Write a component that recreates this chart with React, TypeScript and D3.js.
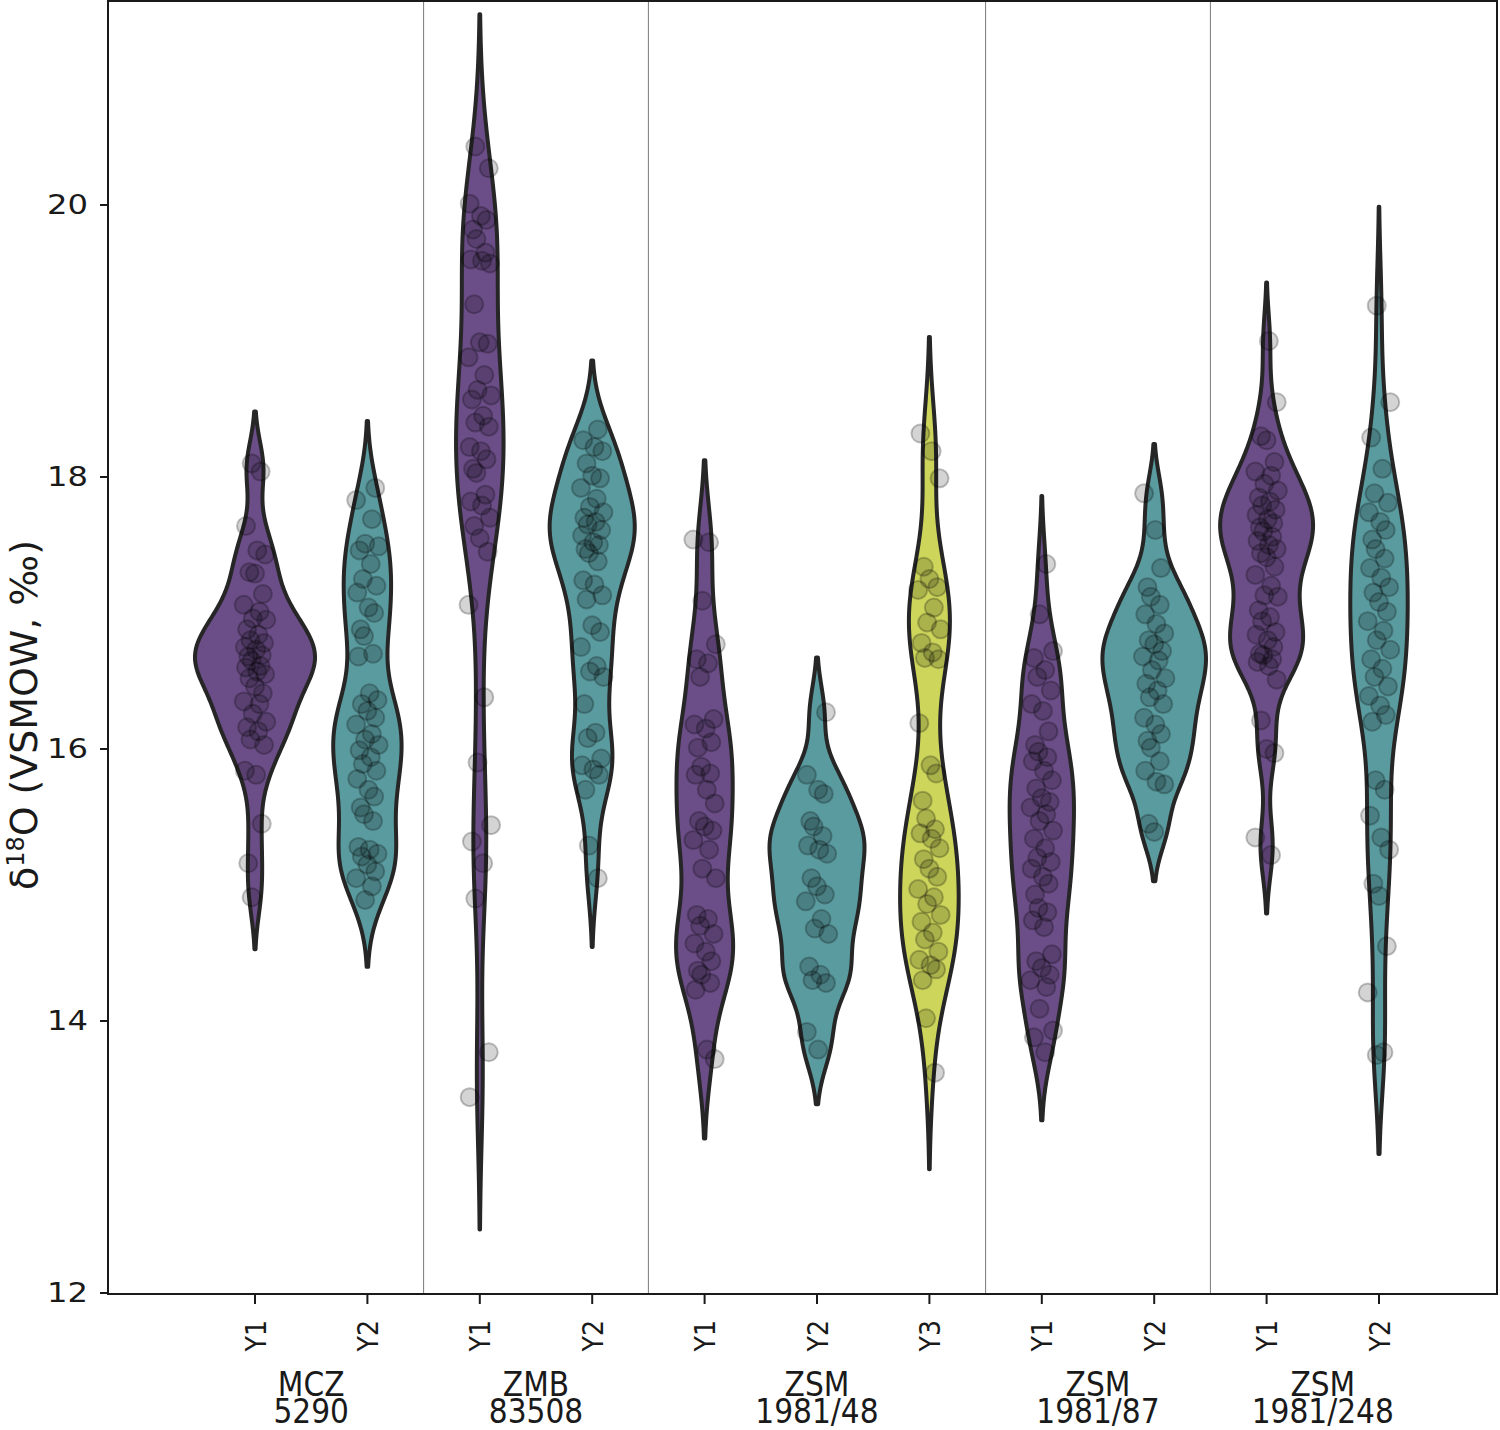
import { useEffect, useRef } from "react"
import * as d3 from "d3"

// group labels (two lines each) and the year slots inside each group
const groupNames = [
  ["MCZ", "5290"],
  ["ZMB", "83508"],
  ["ZSM", "1981/48"],
  ["ZSM", "1981/87"],
  ["ZSM", "1981/248"],
]
const groupYears = [
  ["Y1", "Y2"],
  ["Y1", "Y2"],
  ["Y1", "Y2", "Y3"],
  ["Y1", "Y2"],
  ["Y1", "Y2"],
]
const yTicks = [12, 14, 16, 18, 20]

// δ18O values read off the strips (overlapping circles in dark clusters estimated)
const mczY1 = [18.10, 18.04, 17.64, 17.46, 17.43, 17.30, 17.29, 17.14, 17.06, 17.01, 16.96, 16.95, 16.88, 16.84, 16.80, 16.78, 16.75, 16.73, 16.69, 16.68, 16.65, 16.61, 16.60, 16.57, 16.55, 16.52, 16.46, 16.41, 16.35, 16.33, 16.26, 16.20, 16.16, 16.13, 16.07, 16.03, 15.84, 15.81, 15.45, 15.16, 14.91]
const mczY2 = [17.92, 17.83, 17.69, 17.51, 17.49, 17.46, 17.36, 17.25, 17.20, 17.15, 17.04, 17.00, 16.88, 16.83, 16.70, 16.68, 16.41, 16.36, 16.33, 16.28, 16.23, 16.18, 16.11, 16.07, 16.03, 15.99, 15.94, 15.89, 15.84, 15.78, 15.70, 15.65, 15.57, 15.52, 15.47, 15.28, 15.26, 15.23, 15.21, 15.15, 15.10, 15.05, 14.99, 14.89]
const zmbY1 = [20.43, 20.27, 20.01, 19.92, 19.89, 19.82, 19.75, 19.65, 19.60, 19.59, 19.57, 19.27, 18.99, 18.98, 18.88, 18.75, 18.64, 18.60, 18.57, 18.45, 18.40, 18.37, 18.22, 18.19, 18.13, 18.06, 18.03, 17.87, 17.82, 17.79, 17.70, 17.64, 17.55, 17.45, 17.06, 16.38, 15.90, 15.44, 15.32, 15.16, 14.90, 13.77, 13.44]
const zmbY2 = [18.35, 18.27, 18.22, 18.19, 18.10, 18.01, 17.99, 17.92, 17.84, 17.78, 17.74, 17.70, 17.67, 17.65, 17.61, 17.57, 17.52, 17.50, 17.47, 17.44, 17.38, 17.24, 17.21, 17.13, 17.10, 16.91, 16.86, 16.75, 16.61, 16.57, 16.53, 16.33, 16.12, 16.08, 15.93, 15.88, 15.85, 15.81, 15.70, 15.29, 15.05]
const zsm48Y1 = [17.54, 17.52, 17.09, 16.77, 16.66, 16.63, 16.53, 16.22, 16.18, 16.15, 16.05, 16.01, 15.87, 15.82, 15.81, 15.70, 15.60, 15.47, 15.43, 15.40, 15.33, 15.26, 15.12, 15.05, 14.78, 14.75, 14.70, 14.64, 14.57, 14.51, 14.44, 14.37, 14.34, 14.28, 14.23, 13.79, 13.72]
const zsm48Y2 = [16.27, 15.81, 15.70, 15.67, 15.47, 15.43, 15.36, 15.29, 15.26, 15.23, 15.05, 14.99, 14.93, 14.88, 14.75, 14.68, 14.64, 14.40, 14.34, 14.30, 14.28, 13.92, 13.79]
const zsm48Y3 = [18.32, 18.19, 17.99, 17.34, 17.25, 17.19, 17.17, 17.04, 16.93, 16.88, 16.78, 16.71, 16.67, 16.66, 16.19, 15.88, 15.82, 15.62, 15.49, 15.41, 15.38, 15.34, 15.27, 15.19, 15.12, 15.06, 14.97, 14.91, 14.86, 14.78, 14.73, 14.65, 14.60, 14.51, 14.45, 14.41, 14.38, 14.30, 14.02, 13.62]
const zsm87Y1 = [17.36, 16.99, 16.72, 16.67, 16.58, 16.53, 16.43, 16.33, 16.28, 16.13, 16.03, 15.98, 15.94, 15.91, 15.84, 15.77, 15.71, 15.64, 15.61, 15.57, 15.52, 15.47, 15.40, 15.34, 15.27, 15.20, 15.17, 15.12, 15.06, 15.01, 14.93, 14.83, 14.80, 14.74, 14.69, 14.49, 14.44, 14.39, 14.34, 14.30, 14.25, 14.09, 13.93, 13.88, 13.77]
const zsm87Y2 = [17.88, 17.61, 17.33, 17.19, 17.12, 17.06, 16.99, 16.92, 16.85, 16.80, 16.77, 16.72, 16.68, 16.65, 16.58, 16.52, 16.48, 16.43, 16.38, 16.33, 16.23, 16.18, 16.11, 16.06, 16.01, 15.91, 15.84, 15.76, 15.74, 15.45, 15.39]
const zsm248Y1 = [19.00, 18.55, 18.30, 18.27, 18.11, 18.04, 18.01, 17.95, 17.90, 17.85, 17.82, 17.79, 17.76, 17.72, 17.69, 17.66, 17.63, 17.60, 17.56, 17.53, 17.50, 17.47, 17.44, 17.41, 17.34, 17.28, 17.20, 17.13, 17.12, 17.02, 16.97, 16.94, 16.86, 16.84, 16.80, 16.75, 16.70, 16.69, 16.66, 16.64, 16.61, 16.51, 16.21, 16.00, 15.97, 15.35, 15.22]
const zsm248Y2 = [19.26, 18.55, 18.29, 18.06, 17.88, 17.81, 17.74, 17.67, 17.61, 17.54, 17.47, 17.40, 17.33, 17.26, 17.19, 17.15, 17.08, 17.01, 16.94, 16.87, 16.80, 16.73, 16.66, 16.59, 16.53, 16.46, 16.39, 16.32, 16.25, 16.20, 15.77, 15.70, 15.51, 15.35, 15.26, 15.01, 14.92, 14.55, 14.21, 13.77, 13.75]

const seriesValues = [mczY1, mczY2, zmbY1, zmbY2, zsm48Y1, zsm48Y2, zsm48Y3, zsm87Y1, zsm87Y2, zsm248Y1, zsm248Y2]

// fixed horizontal jitter (fraction of slot spacing), cycled over the points
const jitterPattern = [-0.03, 0.05, -0.08, 0.02, 0.09, -0.05, 0.0, 0.07, -0.1, 0.04, -0.02, 0.1, -0.07, 0.03, -0.04, 0.08, -0.09, 0.01, 0.06, -0.06]

const yearColors: Record<string, string> = { Y1: "#6b4d87", Y2: "#5a9b9f", Y3: "#cdd65b" }

function kde(values: number[], adjust: number) {
  const n = values.length
  const bw = Math.pow(n, -0.2) * (d3.deviation(values) || 1) * adjust
  const lo = (d3.min(values) || 0) - 2 * bw
  const hi = (d3.max(values) || 0) + 2 * bw
  const grid = d3.range(0, 201).map((i) => lo + ((hi - lo) * i) / 200)
  const k = 1 / (n * bw * Math.sqrt(2 * Math.PI))
  return grid.map((g) => [g, k * d3.sum(values, (v) => Math.exp(-0.5 * ((g - v) / bw) ** 2))] as [number, number])
}

export default function App() {
  const svgRef = useRef<SVGSVGElement>(null)

  useEffect(() => {
    if (!svgRef.current) return
    const svg = d3.select(svgRef.current)
    svg.selectAll("*").remove()

    const left = 108
    const right = 1497
    const top = 1
    const bottom = 1294

    const slots: { key: string; year: string; group: number }[] = []
    groupYears.forEach((ys, gi) => ys.forEach((yr) => slots.push({ key: `${gi}-${yr}`, year: yr, group: gi })))

    const x = d3
      .scalePoint()
      .domain(slots.map((s) => s.key))
      .range([255, 1379])
    const step = x.step()
    const y = d3.scaleLinear().domain([12, 20]).range([1293, 205])

    svg.append("defs").append("clipPath").attr("id", "plotclip")
      .append("rect").attr("x", left).attr("y", top).attr("width", right - left).attr("height", bottom - top)

    // group separators
    const sepIdx = [1, 3, 6, 8]
    svg.selectAll(".sep")
      .data(sepIdx)
      .enter()
      .append("line")
      .attr("x1", (i) => (x(slots[i].key)! + x(slots[i + 1].key)!) / 2)
      .attr("x2", (i) => (x(slots[i].key)! + x(slots[i + 1].key)!) / 2)
      .attr("y1", top)
      .attr("y2", bottom)
      .attr("stroke", "#7a7a7a")
      .attr("stroke-width", 1)

    const densities = seriesValues.map((v) => kde(v, 0.6))
    const maxDens = d3.max(densities, (d) => d3.max(d, (p) => p[1])) || 1
    const w = d3.scaleLinear().domain([0, maxDens]).range([0, 60])

    const plot = svg.append("g").attr("clip-path", "url(#plotclip)")

    slots.forEach((s, i) => {
      const cx = x(s.key)!
      const area = d3
        .area<[number, number]>()
        .x0((d) => cx - w(d[1]))
        .x1((d) => cx + w(d[1]))
        .y((d) => y(d[0]))
        .curve(d3.curveCatmullRom)
      plot.append("path")
        .attr("d", area(densities[i]))
        .attr("fill", yearColors[s.year])
        .attr("stroke", "#262626")
        .attr("stroke-width", 4)
        .attr("stroke-linejoin", "round")
    })

    slots.forEach((s, i) => {
      const cx = x(s.key)!
      plot.selectAll(`.pt${i}`)
        .data(seriesValues[i])
        .enter()
        .append("circle")
        .attr("cx", (_, j) => cx + jitterPattern[(j + i * 7) % jitterPattern.length] * step)
        .attr("cy", (d) => y(d))
        .attr("r", 9)
        .attr("fill", "#000")
        .attr("fill-opacity", 0.17)
        .attr("stroke", "#000")
        .attr("stroke-opacity", 0.24)
        .attr("stroke-width", 2)
    })

    // frame
    svg.append("rect")
      .attr("x", left).attr("y", top).attr("width", right - left).attr("height", bottom - top)
      .attr("fill", "none").attr("stroke", "#1a1a1a").attr("stroke-width", 2)

    // y axis
    const ya = svg.append("g")
    ya.selectAll("line")
      .data(yTicks)
      .enter()
      .append("line")
      .attr("x1", left - 8).attr("x2", left)
      .attr("y1", (d) => y(d)).attr("y2", (d) => y(d))
      .attr("stroke", "#1a1a1a").attr("stroke-width", 2)
    ya.selectAll("text")
      .data(yTicks)
      .enter()
      .append("text")
      .attr("x", 88)
      .attr("y", (d) => y(d))
      .attr("text-anchor", "end")
      .attr("dominant-baseline", "central")
      .attr("font-family", "DejaVu Sans")
      .attr("font-size", 26)
      .attr("textLength", 41)
      .attr("lengthAdjust", "spacingAndGlyphs")
      .attr("fill", "#1a1a1a")
      .text((d) => d)

    const ylab = svg.append("text")
      .attr("transform", `translate(37, 715) rotate(-90)`)
      .attr("text-anchor", "middle")
      .attr("font-family", "DejaVu Sans Condensed")
      .attr("font-size", 38)
      .attr("textLength", 350)
      .attr("lengthAdjust", "spacingAndGlyphs")
      .attr("fill", "#1a1a1a")
    ylab.append("tspan").text("δ")
    ylab.append("tspan").attr("font-size", 24).attr("dy", -13).text("18")
    ylab.append("tspan").attr("dy", 13).text("O (VSMOW, ‰)")

    // x axis ticks and year labels
    svg.selectAll(".xt")
      .data(slots)
      .enter()
      .append("line")
      .attr("x1", (d) => x(d.key)!).attr("x2", (d) => x(d.key)!)
      .attr("y1", bottom).attr("y2", bottom + 10)
      .attr("stroke", "#1a1a1a").attr("stroke-width", 2)
    svg.selectAll(".xl")
      .data(slots)
      .enter()
      .append("text")
      .attr("transform", (d) => `translate(${x(d.key)! + 1}, 1320) rotate(-90)`)
      .attr("text-anchor", "end")
      .attr("dominant-baseline", "central")
      .attr("font-family", "DejaVu Sans Condensed")
      .attr("font-size", 28)
      .attr("fill", "#1a1a1a")
      .text((d) => d.year)

    // group labels, two stacked lines in one text
    groupNames.forEach((names, gi) => {
      const keys = slots.filter((s) => s.group === gi).map((s) => x(s.key)!)
      const cx = ((d3.min(keys) || 0) + (d3.max(keys) || 0)) / 2
      const t = svg.append("text")
        .attr("x", cx)
        .attr("y", 1396)
        .attr("text-anchor", "middle")
        .attr("font-family", "DejaVu Sans Condensed")
        .attr("font-size", 33)
        .attr("fill", "#1a1a1a")
      names.forEach((line, li) => {
        t.append("tspan").attr("x", cx).attr("dy", li === 0 ? 0 : 27).text(line)
      })
    })
  }, [])

  return (
    <svg
      ref={svgRef}
      width={1500}
      height={1430}
      style={{ position: "absolute", left: 0, top: 0, background: "#fff" }}
    />
  )
}
